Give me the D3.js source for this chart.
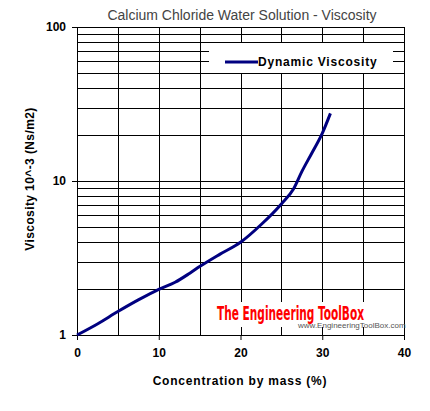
<!DOCTYPE html>
<html>
<head>
<meta charset="utf-8">
<script src="https://cdn.jsdelivr.net/npm/d3@7"></script>
<style>
  body { margin: 0; background: #fff; }
  svg { display: block; font-family: "Liberation Sans", Arial, sans-serif; }
</style>
</head>
<body>
<div id="chart"></div>
<script>
// chart size and plot box
const WIDTH = 430;
const HEIGHT = 411;
const MARGIN = { left: 77, top: 27, right: 26, bottom: 76 };
const INNER_W = WIDTH - MARGIN.left - MARGIN.right;
const INNER_H = HEIGHT - MARGIN.top - MARGIN.bottom;

// data
const concentration = [0, 2.5, 5, 7.5, 10, 12, 13.8, 15, 17.5, 20, 22.5, 25, 26.5, 27.5, 28.7, 30, 31];
const viscosity = [1.0, 1.18, 1.42, 1.69, 1.98, 2.2, 2.52, 2.78, 3.35, 4.0, 5.2, 7.1, 8.9, 11.5, 15.1, 20.4, 27.5];

const xTicks = [0, 10, 20, 30, 40];
const xGrid = [5, 10, 15, 20, 25, 30, 35];
const yTicks = [1, 10, 100];
const yGrid = [2, 3, 4, 5, 6, 7, 8, 9, 10, 20, 30, 40, 50, 60, 70, 80, 90];

const svg = d3.select("#chart")
  .append("svg")
  .attr("width", WIDTH)
  .attr("height", HEIGHT);

const g = svg.append("g")
  .attr("transform", "translate(" + MARGIN.left + "," + MARGIN.top + ")");

const x = d3.scaleLinear().domain([0, 40]).range([0, INNER_W]);
const y = d3.scaleLog().domain([1, 100]).range([INNER_H, 0]);

// grid
g.selectAll(".hgrid").data(yGrid).join("line")
  .attr("class", "hgrid")
  .attr("x1", 0).attr("x2", INNER_W)
  .attr("y1", d => Math.round(y(d)) + 0.5).attr("y2", d => Math.round(y(d)) + 0.5)
  .attr("stroke", "#000").attr("stroke-width", 1);

g.selectAll(".vgrid").data(xGrid).join("line")
  .attr("class", "vgrid")
  .attr("x1", d => Math.round(x(d)) + 0.5).attr("x2", d => Math.round(x(d)) + 0.5)
  .attr("y1", 0).attr("y2", INNER_H)
  .attr("stroke", "#000").attr("stroke-width", 1);

// axes, ticks outside
const xAxis = g.append("g")
  .attr("transform", "translate(0," + INNER_H + ")")
  .call(d3.axisBottom(x).tickValues(xTicks).tickSize(5).tickPadding(8).tickFormat(d3.format("d")));
const yAxis = g.append("g")
  .call(d3.axisLeft(y).tickValues(yTicks).tickSize(5).tickPadding(6).tickFormat(d3.format("d")));

[xAxis, yAxis].forEach(a => {
  a.selectAll(".domain").remove();
  a.selectAll("line").attr("stroke", "#000");
  a.selectAll("text")
    .attr("fill", "#000")
    .style("font-family", "'Liberation Sans', Arial, sans-serif")
    .style("font-size", "12px")
    .style("font-weight", "bold");
});

// plot border
g.append("rect")
  .attr("x", 0.5).attr("y", 0.5)
  .attr("width", INNER_W).attr("height", INNER_H)
  .attr("fill", "none").attr("stroke", "#000");

// watermark
g.append("rect")
  .attr("x", 136).attr("y", 275)
  .attr("width", INNER_W - 136).attr("height", 25)
  .attr("fill", "#fff");
g.append("text")
  .attr("x", 140).attr("y", 293)
  .attr("textLength", 147)
  .attr("lengthAdjust", "spacingAndGlyphs")
  .attr("fill", "#ff0000")
  .style("font-family", "'Liberation Sans Narrow', 'DejaVu Sans Condensed', sans-serif")
  .style("font-size", "19px")
  .style("font-weight", "bold")
  .text("The Engineering ToolBox");
g.append("text")
  .attr("x", 221).attr("y", 301)
  .attr("fill", "#555")
  .style("font-size", "8px")
  .text("www.EngineeringToolBox.com");

// curve
const line = d3.line()
  .x(d => x(d[0]))
  .y(d => y(d[1]))
  .curve(d3.curveMonotoneX);

g.append("path")
  .datum(concentration.map((c, i) => [c, viscosity[i]]))
  .attr("d", line)
  .attr("fill", "none")
  .attr("stroke", "#000080")
  .attr("stroke-width", 3);

// legend
const legend = g.append("g").attr("transform", "translate(132,16)");
legend.append("rect")
  .attr("width", 184).attr("height", 30)
  .attr("fill", "#fff");
legend.append("line")
  .attr("x1", 16).attr("x2", 49)
  .attr("y1", 19).attr("y2", 19)
  .attr("stroke", "#000080").attr("stroke-width", 3);
legend.append("text")
  .attr("x", 49).attr("y", 23)
  .style("font-size", "12px")
  .style("font-weight", "bold")
  .style("letter-spacing", "0.8px")
  .text("Dynamic Viscosity");

// titles
svg.append("text")
  .attr("x", 242).attr("y", 20)
  .attr("text-anchor", "middle")
  .attr("fill", "#444")
  .style("font-size", "14px")
  .text("Calcium Chloride Water Solution - Viscosity");

svg.append("text")
  .attr("x", 240).attr("y", 385)
  .attr("text-anchor", "middle")
  .style("font-size", "12px")
  .style("font-weight", "bold")
  .style("letter-spacing", "0.8px")
  .text("Concentration by mass (%)");

svg.append("text")
  .attr("transform", "translate(34,179) rotate(-90)")
  .attr("text-anchor", "middle")
  .style("font-size", "12px")
  .style("font-weight", "bold")
  .style("letter-spacing", "0.4px")
  .text("Viscosity 10^-3 (Ns/m2)");
</script>
</body>
</html>
